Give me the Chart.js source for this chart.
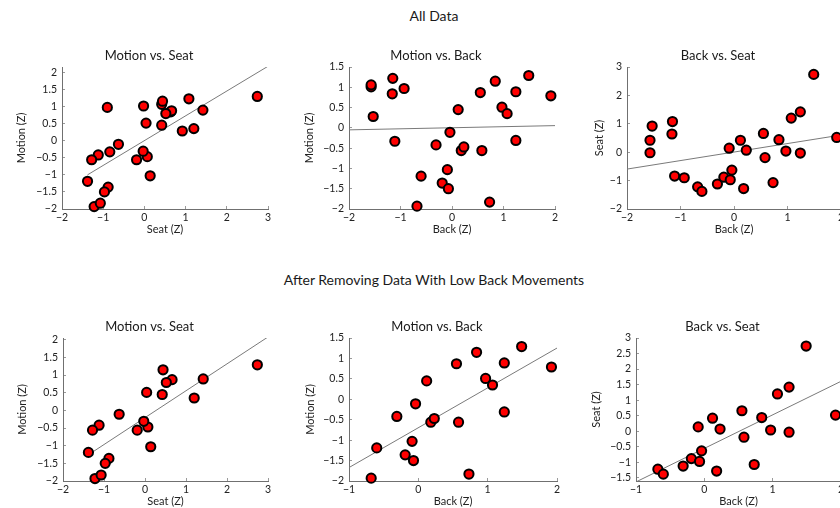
<!DOCTYPE html>
<html>
<head>
<meta charset="utf-8">
<script src="https://cdn.jsdelivr.net/npm/chart.js@4.4.1/dist/chart.umd.min.js"></script>
<style>
  html, body { margin: 0; padding: 0; background: #fff; }
  body { width: 840px; height: 508px; overflow: hidden; position: relative; font-family: Lato, sans-serif; }
  .head { position: absolute; left: 0; width: 868px; text-align: center; font-size: 14px; line-height: 18px; color: #1a1a1a; }
  canvas { position: absolute; }
</style>
</head>
<body>
<div class="head" style="top:7px">All Data</div>
<div class="head" style="top:271px">After Removing Data With Low Back Movements</div>
<canvas id="c0"></canvas>
<canvas id="c1"></canvas>
<canvas id="c2"></canvas>
<canvas id="c3"></canvas>
<canvas id="c4"></canvas>
<canvas id="c5"></canvas>
<script>
// z-scored values, one entry per trial
var back   = [-1.57, -1.57, -1.53, -1.15, -1.16, -1.11, -0.93, -0.68, -0.60, -0.31, -0.19, -0.09, -0.07, -0.04, 0.12, 0.18, 0.23, 0.55, 0.58, 0.73, 0.84, 0.97, 1.07, 1.24, 1.24, 1.49, 1.92];
var seat   = [-0.02, 0.42, 0.92, 1.08, 0.64, -0.84, -0.90, -1.22, -1.38, -1.12, -0.88, 0.14, -0.97, -0.63, 0.42, -1.28, 0.07, 0.66, -0.19, -1.07, 0.44, 0.04, 1.20, 1.42, -0.03, 2.74, 0.52];
var motion = [1.01, 1.06, 0.28, 1.22, 0.84, -0.33, 0.97, -1.93, -1.19, -0.42, -1.36, -1.03, -1.50, -0.11, 0.45, -0.56, -0.47, 0.87, -0.56, -1.83, 1.15, 0.51, 0.35, 0.89, -0.31, 1.29, 0.79];

var lowBackCut = -0.8;

var titles  = ["Motion vs. Seat", "Motion vs. Back", "Back vs. Seat"];
var xLabels = ["Seat (Z)", "Back (Z)", "Back (Z)"];
var yLabels = ["Motion (Z)", "Motion (Z)", "Seat (Z)"];

// axis limits per panel (top row then bottom row)
var xMins  = [-2, -2, -2, -2, -1, -1];
var xMaxs  = [3, 2, 2, 3, 2, 2];
var yMins  = [-2, -2, -2, -2, -2, -1.6];
var yMaxs  = [2.15, 1.5, 3, 2.05, 1.5, 3];
var ySteps = [0.5, 0.5, 1, 0.5, 0.5, 0.5];

// plot rectangles on the page
var boxes = [
  {l: 62,  r: 268, t: 67,  b: 209},
  {l: 349, r: 555, t: 67,  b: 209},
  {l: 627, r: 841, t: 67,  b: 209},
  {l: 63,  r: 268, t: 338, b: 481},
  {l: 349, r: 557, t: 338, b: 481},
  {l: 636, r: 841, t: 338, b: 481}
];
var yTitleGap = [41, 40, 28, 41, 39, 40];

Chart.defaults.font.family = "Lato, sans-serif";
Chart.defaults.color = "#222";

function fmt(v) {
  return (v < 0 ? "\u2212" : "") + Math.abs(v);
}

function fit(xs, ys) {
  var n = xs.length, mx = 0, my = 0, sxy = 0, sxx = 0;
  for (var i = 0; i < n; i++) { mx += xs[i] / n; my += ys[i] / n; }
  for (var j = 0; j < n; j++) {
    sxy += (xs[j] - mx) * (ys[j] - my);
    sxx += (xs[j] - mx) * (xs[j] - mx);
  }
  var b = sxy / sxx;
  return {a: my - b * mx, b: b};
}

function makePanel(k, xs, ys, kind) {
  var W = 32, PL = 18, PR = 18, TH = 23, XH = 27;
  var box = boxes[k];
  var cv = document.getElementById("c" + k);
  cv.width = box.r - box.l + W + PL + PR;
  cv.height = TH + (box.b - box.t) + XH;
  cv.style.left = (box.l - W - PL) + "px";
  cv.style.top = (box.t - TH) + "px";

  var pts = [];
  for (var i = 0; i < xs.length; i++) pts.push({x: xs[i], y: ys[i]});

  var f = fit(xs, ys);
  var x0 = kind === 0 ? Math.min.apply(null, xs) : xMins[k];
  var x1 = xMaxs[k];
  var line = [{x: x0, y: f.a + f.b * x0}, {x: x1, y: f.a + f.b * x1}];

  var gridOpts = {drawOnChartArea: false, drawTicks: true, tickLength: -3, tickColor: "#9a9a9a"};

  new Chart(cv, {
    type: "scatter",
    data: {
      datasets: [
        {data: pts, backgroundColor: "#ff0000", borderColor: "#000", borderWidth: 2, pointRadius: 4.6, clip: false},
        {data: line, showLine: true, pointRadius: 0, borderColor: "#7a7a7a", borderWidth: 1, fill: false}
      ]
    },
    options: {
      responsive: false,
      animation: false,
      events: [],
      layout: {padding: {left: PL, right: PR, top: 0, bottom: 0}},
      plugins: {
        legend: {display: false},
        tooltip: {enabled: false},
        title: {
          display: true, text: titles[kind], color: "#1a1a1a",
          font: {size: 13, weight: "normal", lineHeight: "16px"},
          padding: {top: 4, bottom: 3}
        }
      },
      scales: {
        x: {
          type: "linear", min: xMins[k], max: xMaxs[k],
          afterFit: function (s) { s.height = XH; },
          ticks: {stepSize: 1, padding: 5, autoSkip: false, maxRotation: 0, color: "#222", font: {size: 10.5}, callback: fmt},
          grid: gridOpts,
          border: {color: "#707070"},
          title: {display: true, text: xLabels[kind], color: "#222", font: {size: 11}, padding: {top: 0, bottom: 0}}
        },
        y: {
          type: "linear", min: yMins[k], max: yMaxs[k],
          afterFit: function (s) { s.width = W; },
          ticks: {stepSize: ySteps[k], padding: 8, autoSkip: false, includeBounds: false, color: "#222", font: {size: 10.5}, callback: fmt},
          grid: gridOpts,
          border: {color: "#707070"},
          title: {display: true, text: yLabels[kind], color: "#222", font: {size: 11}, padding: {top: W - yTitleGap[k] - 6.6, bottom: 0}}
        }
      }
    }
  });
}

// after removing trials with low back movement
var keep = [];
for (var i = 0; i < back.length; i++) if (back[i] > lowBackCut) keep.push(i);
function pick(arr) { return keep.map(function (i) { return arr[i]; }); }

makePanel(0, seat, motion, 0);
makePanel(1, back, motion, 1);
makePanel(2, back, seat, 2);
makePanel(3, pick(seat), pick(motion), 0);
makePanel(4, pick(back), pick(motion), 1);
makePanel(5, pick(back), pick(seat), 2);
</script>
</body>
</html>
